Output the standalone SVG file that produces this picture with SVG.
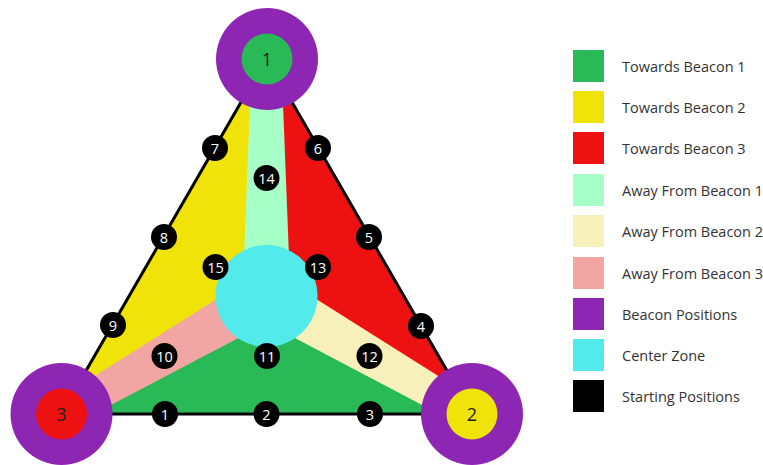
<svg xmlns="http://www.w3.org/2000/svg" width="763" height="465" viewBox="0 0 763 465">
<style>
.mk circle{fill:#000}
.mk text{fill:#fff;font-family:"Open Sans",sans-serif;font-size:14.5px;text-anchor:middle}
.bn{fill:#8e26b4}
.bt{fill:#222;font-family:"Open Sans",sans-serif;font-size:18px;text-anchor:middle}
.lg{font-family:"Open Sans",sans-serif;font-size:14.5px;fill:#333}
</style>
<defs>
<clipPath id="tri"><polygon points="266.5,58 472,414 61,414"/></clipPath>
<polygon id="band" points="242.5,296 252.5,40 280.5,40 290.5,296"/>
</defs>
<rect width="763" height="465" fill="#fff"/>
<g id="field" clip-path="url(#tri)">
<polygon points="266.5,296 266.5,58 61,414" fill="#f0e30a"/>
<polygon points="266.5,296 266.5,58 472,414" fill="#ee1111"/>
<polygon points="266.5,296 472,414 61,414" fill="#2ab957"/>
<use href="#band" fill="#a7ffc8"/>
<use href="#band" fill="#f7f0bb" transform="rotate(120 266.5 296)"/>
<use href="#band" fill="#f2a6a3" transform="rotate(240 266.5 296)"/>
</g>
<g id="center"><circle cx="266.5" cy="296" r="51" fill="#52eaea"/></g>
<g id="connectors"><polygon points="266.5,58 472,414 61,414" fill="none" stroke="#000" stroke-width="3" stroke-linejoin="round"/></g>
<g id="beacon1"><circle class="bn" cx="267" cy="59" r="51"/><circle cx="267" cy="59" r="25.5" fill="#2ab957"/><text class="bt" x="267" y="65.5">1</text></g>
<g id="beacon2"><circle class="bn" cx="472" cy="414" r="51"/><circle cx="472" cy="414" r="25.5" fill="#f0e30a"/><text class="bt" x="472" y="420.5">2</text></g>
<g id="beacon3"><circle class="bn" cx="61.5" cy="414" r="51"/><circle cx="61.5" cy="414" r="25.5" fill="#ee1111"/><text class="bt" x="61.5" y="420.5">3</text></g>
<g id="s1" class="mk"><circle cx="165" cy="414" r="13"/><text x="165" y="419.5">1</text></g>
<g id="s2" class="mk"><circle cx="266.5" cy="414" r="13"/><text x="266.5" y="419.5">2</text></g>
<g id="s3" class="mk"><circle cx="370" cy="414" r="13"/><text x="370" y="419.5">3</text></g>
<g id="s4" class="mk"><circle cx="421" cy="326" r="13"/><text x="421" y="331.5">4</text></g>
<g id="s5" class="mk"><circle cx="369" cy="237" r="13"/><text x="369" y="242.5">5</text></g>
<g id="s6" class="mk"><circle cx="318" cy="148" r="13"/><text x="318" y="153.5">6</text></g>
<g id="s7" class="mk"><circle cx="215" cy="148" r="13"/><text x="215" y="153.5">7</text></g>
<g id="s8" class="mk"><circle cx="164" cy="237" r="13"/><text x="164" y="242.5">8</text></g>
<g id="s9" class="mk"><circle cx="113" cy="325" r="13"/><text x="113" y="330.5">9</text></g>
<g id="s10" class="mk"><circle cx="164.5" cy="356" r="13"/><text x="164.5" y="361.5">10</text></g>
<g id="s11" class="mk"><circle cx="267" cy="356" r="13"/><text x="267" y="361.5">11</text></g>
<g id="s12" class="mk"><circle cx="369.5" cy="356" r="13"/><text x="369.5" y="361.5">12</text></g>
<g id="s13" class="mk"><circle cx="318" cy="267" r="13"/><text x="318" y="272.5">13</text></g>
<g id="s14" class="mk"><circle cx="266.5" cy="178" r="13"/><text x="266.5" y="183.5">14</text></g>
<g id="s15" class="mk"><circle cx="215.5" cy="267" r="13"/><text x="215.5" y="272.5">15</text></g>
<g id="legend">
<rect x="573" y="50" width="31" height="32" fill="#2ab957"/><text class="lg" x="622" y="72">Towards Beacon 1</text>
<rect x="573" y="91" width="31" height="32" fill="#f0e30a"/><text class="lg" x="622" y="113">Towards Beacon 2</text>
<rect x="573" y="132" width="31" height="32" fill="#ee1111"/><text class="lg" x="622" y="154">Towards Beacon 3</text>
<rect x="573" y="174" width="31" height="32" fill="#a7ffc8"/><text class="lg" x="622" y="196">Away From Beacon 1</text>
<rect x="573" y="215" width="31" height="32" fill="#f7f0bb"/><text class="lg" x="622" y="237">Away From Beacon 2</text>
<rect x="573" y="257" width="31" height="32" fill="#f2a6a3"/><text class="lg" x="622" y="279">Away From Beacon 3</text>
<rect x="573" y="298" width="31" height="32" fill="#8e26b4"/><text class="lg" x="622" y="320">Beacon Positions</text>
<rect x="573" y="339" width="31" height="32" fill="#52eaea"/><text class="lg" x="622" y="361">Center Zone</text>
<rect x="573" y="380" width="31" height="32" fill="#000"/><text class="lg" x="622" y="402">Starting Positions</text>
</g>
</svg>
